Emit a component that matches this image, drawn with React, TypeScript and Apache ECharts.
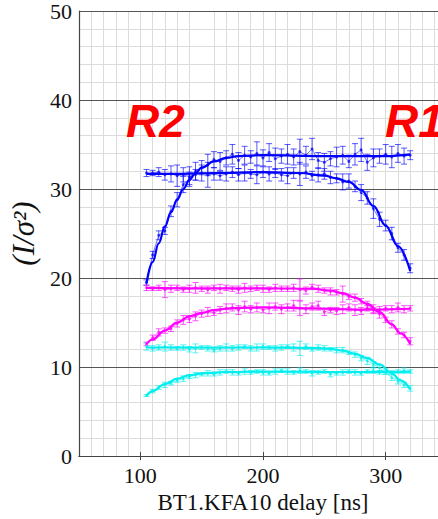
import React, { useEffect, useRef } from "react";
import * as echarts from "echarts";

const delays = [105,110,115,120,125,130,135,140,145,150,155,160,165,170,175,180,185,190,195,200,205,210,215,220,225,230,235,240,245,250,255,260,265,270,275,280,285,290,295,300,305,310,315,320];

// measured points
const blueR2 = [19.5,22.6,24.8,25.3,27.5,28.8,30.5,31.2,32.0,32.4,32.7,33.3,33.1,33.5,33.9,33.2,33.8,33.6,34.0,33.5,34.1,33.4,33.7,33.9,33.6,34.2,33.8,34.5,33.2,33.0,33.4,33.6,33.8,33.1,33.9,34.4,33.0,33.5,33.7,33.9,33.6,34.0,33.7,33.8];
const blueR2Err = [0.3,0.4,0.5,0.4,0.6,0.8,0.9,0.7,1.0,0.8,1.2,0.9,1.0,0.8,1.1,0.9,1.0,0.7,1.3,0.9,1.0,1.2,0.8,1.1,0.9,1.4,1.0,1.2,0.9,1.0,0.8,1.1,1.0,0.7,1.2,1.3,0.9,1.0,0.8,1.1,1.2,1.0,0.9,0.5];
const blueR1 = [31.8,31.8,31.9,31.6,31.7,31.5,31.6,31.4,31.6,31.8,31.6,31.7,31.5,31.7,31.9,31.6,31.8,31.7,31.6,31.9,31.7,31.8,31.6,31.5,31.8,31.7,31.9,31.5,31.6,31.7,31.3,31.2,30.8,30.9,30.3,29.6,29.0,27.8,26.6,25.9,25.0,23.4,22.6,21.1];
const blueR1Err = [0.4,0.3,0.5,0.6,0.9,1.2,0.8,1.1,0.6,0.9,1.4,0.7,0.5,0.8,0.6,0.7,0.9,0.5,1.0,0.6,0.8,0.5,0.7,0.9,0.6,1.3,0.7,0.5,0.8,0.6,0.7,0.5,0.9,0.8,0.6,0.9,0.7,1.1,0.8,0.6,0.7,0.5,0.6,0.5];
const magR1 = [18.9,18.8,18.9,18.7,18.8,18.9,18.7,18.8,18.9,18.8,18.7,18.9,18.8,18.9,18.8,18.7,18.9,18.8,18.9,18.8,18.7,18.9,18.8,18.8,18.9,18.7,18.6,19.0,18.8,18.6,18.5,18.4,18.2,17.9,17.8,17.4,17.0,16.4,16.0,15.3,14.8,14.0,13.6,12.9];
const magR1Err = [0.3,0.2,0.3,0.9,0.4,0.3,0.3,0.4,0.6,0.3,0.4,0.3,0.5,0.3,0.3,0.4,0.5,0.3,0.3,0.4,0.3,0.4,0.3,0.3,0.4,1.2,0.4,0.3,0.4,0.3,0.4,0.3,0.9,0.3,0.4,0.3,0.4,0.3,0.5,0.3,0.4,0.3,0.3,0.4];
const magR2 = [12.6,13.3,13.9,14.1,14.3,14.9,15.3,15.4,15.7,16.0,16.2,16.1,16.4,16.6,16.7,16.4,16.8,16.5,16.7,16.4,16.6,16.8,16.5,16.7,16.9,16.6,16.5,16.8,16.9,16.2,16.4,16.3,16.5,16.7,16.4,16.3,16.6,16.5,16.4,16.6,16.5,16.7,16.5,16.6];
const magR2Err = [0.2,0.3,0.4,0.3,0.3,0.4,0.5,0.4,0.5,0.4,0.5,0.3,0.4,0.5,0.4,0.5,0.6,0.4,0.5,0.3,0.6,0.4,0.5,0.4,0.6,0.8,0.5,0.4,0.5,0.4,0.3,0.4,0.5,0.4,0.6,0.4,0.3,0.5,0.4,0.3,0.4,0.5,0.4,0.3];
const cyanR1 = [12.3,12.1,12.2,12.3,12.2,12.1,12.2,12.0,12.1,12.2,12.1,11.9,12.1,12.2,12.1,12.2,12.3,12.1,12.2,12.3,12.2,12.1,12.2,12.3,12.2,12.1,12.3,12.0,12.2,12.1,12.0,11.9,11.9,11.6,11.4,11.0,10.7,10.3,9.9,9.4,8.8,8.4,8.0,7.6];
const cyanR1Err = [0.4,0.3,0.3,0.5,0.3,0.2,0.3,0.3,0.5,0.2,0.3,0.2,0.3,0.4,0.3,0.3,0.2,0.3,0.4,0.3,0.2,0.3,0.3,0.2,0.4,0.8,0.3,0.2,0.3,0.3,0.2,0.3,0.3,0.2,0.3,0.3,0.4,0.3,0.3,0.2,0.3,0.3,0.3,0.3];
const cyanR2 = [6.8,7.3,7.7,8.0,8.2,8.5,8.7,8.9,9.1,9.2,9.3,9.2,9.4,9.5,9.4,9.3,9.5,9.4,9.5,9.4,9.3,9.5,9.6,9.5,9.4,9.6,9.5,9.3,9.4,9.5,9.2,9.3,9.4,9.5,9.4,9.3,9.5,9.6,9.4,9.5,9.4,9.5,9.6,9.5];
const cyanR2Err = [0.1,0.2,0.2,0.3,0.2,0.2,0.3,0.2,0.3,0.2,0.3,0.2,0.3,0.2,0.3,0.2,0.3,0.2,0.2,0.3,0.2,0.3,0.2,0.3,0.2,0.3,0.2,0.3,0.2,0.2,0.3,0.2,0.3,0.2,0.3,0.2,0.2,0.3,0.2,0.3,0.2,0.2,0.3,0.2];

// fitted curves (read at sparse positions)
const fitBlueR2X = [105,110,115,120,125,130,135,140,145,150,160,170,180,200,250,300,320];
const fitBlueR2Y = [19.4,21.8,23.9,25.8,27.4,28.8,30.0,31.0,31.8,32.4,33.1,33.5,33.7,33.8,33.7,33.7,33.9];
const fitBlueR1X = [105,130,160,200,230,250,260,270,280,290,300,310,320];
const fitBlueR1Y = [31.7,31.7,31.8,31.9,31.8,31.5,31.2,30.8,29.9,28.1,25.9,23.6,20.8];
const fitMagR1X = [105,150,200,240,255,265,275,285,295,305,312,320];
const fitMagR1Y = [18.9,18.85,18.85,18.8,18.6,18.3,17.8,17.1,16.2,14.8,13.8,12.6];
const fitMagR2X = [105,110,120,130,140,150,160,170,180,200,240,280,320];
const fitMagR2Y = [12.6,13.1,14.1,15.0,15.7,16.1,16.4,16.55,16.65,16.7,16.6,16.45,16.55];
const fitCyanR1X = [105,200,240,255,265,275,285,295,305,312,320];
const fitCyanR1Y = [12.2,12.2,12.15,12.05,11.85,11.5,11.0,10.3,9.3,8.5,7.5];
const fitCyanR2X = [105,110,120,130,140,150,170,200,250,300,320];
const fitCyanR2Y = [6.8,7.3,8.1,8.7,9.1,9.3,9.45,9.5,9.45,9.45,9.5];

const xTicks = [100, 200, 300];

const BLUE = "#0000ff";
const MAG = "#ff00ff";
const CYAN = "#00eeee";

const SERIF = "Liberation Serif";

function pairs(xs: number[], ys: number[]) {
  return xs.map((x, i) => [x, ys[i]]);
}

function errSeries(vals: number[], errs: number[], color: string) {
  return {
    type: "custom",
    silent: true,
    z: 3,
    data: delays.map((x, i) => [x, vals[i] - errs[i], vals[i] + errs[i]]),
    encode: { x: 0, y: [1, 2] },
    renderItem: (params: any, api: any) => {
      const x = api.value(0);
      const lo = api.coord([x, api.value(1)]);
      const hi = api.coord([x, api.value(2)]);
      const w = 3;
      const style = { stroke: color, lineWidth: 1, opacity: 0.65 };
      return {
        type: "group",
        children: [
          { type: "line", shape: { x1: lo[0], y1: lo[1], x2: hi[0], y2: hi[1] }, style },
          { type: "line", shape: { x1: lo[0] - w, y1: lo[1], x2: lo[0] + w, y2: lo[1] }, style },
          { type: "line", shape: { x1: hi[0] - w, y1: hi[1], x2: hi[0] + w, y2: hi[1] }, style },
        ],
      };
    },
  };
}

function pointSeries(vals: number[], color: string) {
  return {
    type: "line",
    data: pairs(delays, vals),
    symbol: "circle",
    symbolSize: 3,
    lineStyle: { color, width: 1, opacity: 0.55 },
    itemStyle: { color, opacity: 0.7 },
    z: 4,
    silent: true,
  };
}

function fitSeries(xs: number[], ys: number[], color: string) {
  return {
    type: "line",
    data: pairs(xs, ys),
    smooth: 0.4,
    smoothMonotone: "x",
    showSymbol: false,
    symbol: "none",
    lineStyle: { color, width: 2.2 },
    z: 5,
    silent: true,
  };
}

export default function App() {
  const ref = useRef<HTMLDivElement>(null);
  useEffect(() => {
    if (!ref.current) return;
    const chart = echarts.init(ref.current, null, { renderer: "svg" });
    const xCommon = {
      type: "value",
      min: 50,
      max: 350,
      interval: 50,
    };
    chart.setOption({
      animation: false,
      backgroundColor: "#ffffff",
      textStyle: { fontFamily: SERIF },
      grid: { left: 79, top: 11, width: 368, height: 447, containLabel: false },
      xAxis: [
        {
          ...xCommon,
          position: "bottom",
          z: 0,
          name: "BT1.KFA10 delay [ns]",
          nameLocation: "middle",
          nameGap: 34,
          nameTextStyle: { fontFamily: SERIF, fontSize: 23, color: "#111" },
          axisLine: { show: true, lineStyle: { color: "#444", width: 1.2 } },
          axisTick: { show: true, inside: true, length: 4, customValues: xTicks, lineStyle: { color: "#444" } },
          axisLabel: { show: true, customValues: xTicks, margin: 8, fontFamily: SERIF, fontSize: 22, color: "#111" },
          splitLine: { show: true, lineStyle: { color: "#dcdcdc", width: 1 } },
          minorTick: { show: false, splitNumber: 5 },
          minorSplitLine: { show: true, lineStyle: { color: "#dcdcdc", width: 1 } },
        },
        {
          ...xCommon,
          position: "top",
          z: 3,
          axisLine: { show: true, lineStyle: { color: "#444", width: 1.2 } },
          axisTick: { show: true, inside: true, length: 4, customValues: xTicks, lineStyle: { color: "#444" } },
          axisLabel: { show: false },
          splitLine: { show: false },
        },
      ],
      yAxis: [
        {
          type: "value",
          min: 0,
          max: 50,
          interval: 10,
          z: 2,
          name: "(I/σ²)",
          nameLocation: "middle",
          nameGap: 35,
          nameTextStyle: { fontFamily: SERIF, fontSize: 31, fontStyle: "italic", color: "#111" },
          axisLine: { show: true, lineStyle: { color: "#444", width: 1.2 } },
          axisTick: { show: false },
          axisLabel: { margin: 7, fontFamily: SERIF, fontSize: 22, color: "#111" },
          splitLine: { show: true, lineStyle: { color: "#555", width: 1 } },
          minorTick: { show: false, splitNumber: 5 },
          minorSplitLine: { show: true, lineStyle: { color: "#dcdcdc", width: 1 } },
        },
        {
          type: "value",
          min: 0,
          max: 50,
          interval: 10,
          position: "right",
          z: 3,
          axisLine: { show: true, lineStyle: { color: "#444", width: 1.2 } },
          axisTick: { show: false },
          axisLabel: { show: false },
          splitLine: { show: false },
        },
      ],
      graphic: [
        {
          type: "text",
          x: 126,
          y: 121,
          z: 10,
          style: {
            text: "R2",
            fill: "#ff0000",
            font: "italic bold 46px 'Liberation Sans', Arial, sans-serif",
            textAlign: "left",
            textVerticalAlign: "middle",
          },
        },
        {
          type: "text",
          x: 385,
          y: 121,
          z: 10,
          style: {
            text: "R1",
            fill: "#ff0000",
            font: "italic bold 46px 'Liberation Sans', Arial, sans-serif",
            textAlign: "left",
            textVerticalAlign: "middle",
          },
        },
      ],
      series: [
        errSeries(blueR2, blueR2Err, BLUE),
        errSeries(blueR1, blueR1Err, BLUE),
        errSeries(magR1, magR1Err, MAG),
        errSeries(magR2, magR2Err, MAG),
        errSeries(cyanR1, cyanR1Err, CYAN),
        errSeries(cyanR2, cyanR2Err, CYAN),
        pointSeries(blueR2, BLUE),
        pointSeries(blueR1, BLUE),
        pointSeries(magR1, MAG),
        pointSeries(magR2, MAG),
        pointSeries(cyanR1, CYAN),
        pointSeries(cyanR2, CYAN),
        fitSeries(fitBlueR2X, fitBlueR2Y, BLUE),
        fitSeries(fitBlueR1X, fitBlueR1Y, BLUE),
        fitSeries(fitMagR1X, fitMagR1Y, MAG),
        fitSeries(fitMagR2X, fitMagR2Y, MAG),
        fitSeries(fitCyanR1X, fitCyanR1Y, CYAN),
        fitSeries(fitCyanR2X, fitCyanR2Y, CYAN),
      ],
    });
    return () => chart.dispose();
  }, []);
  return (
    <div
      ref={ref}
      style={{ position: "fixed", left: 0, top: 0, width: 460, height: 519, background: "#fff" }}
    />
  );
}
